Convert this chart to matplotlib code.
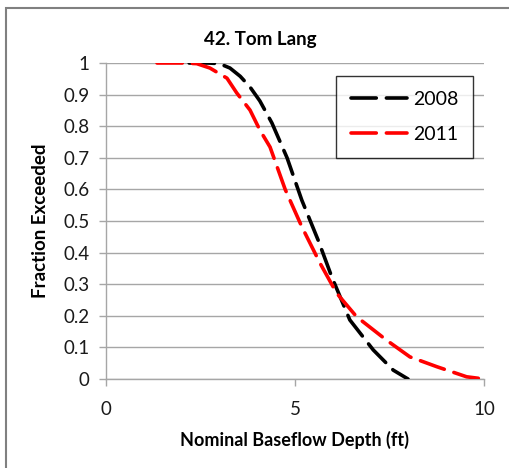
import matplotlib
matplotlib.use("Agg")
import matplotlib.pyplot as plt
from matplotlib.patches import Rectangle

plt.rcParams['font.family'] = ['Lato', 'DejaVu Sans']

# Exceedance curves: nominal baseflow depth (ft) vs fraction exceeded
depth_2008 = [2.2, 2.7, 3.0, 3.28, 3.55, 3.81, 4.07, 4.39, 4.79, 5.18, 5.61, 5.97, 6.45, 7.07, 7.6, 7.99]
frac_2008 = [1.0, 1.0, 0.998, 0.984, 0.958, 0.924, 0.88, 0.81, 0.70, 0.566, 0.44, 0.324, 0.187, 0.092, 0.028, 0.0]

depth_2011 = [1.35, 2.0, 2.4, 2.75, 3.2, 3.46, 3.81, 4.07, 4.34, 4.74, 5.18, 5.66, 6.1, 6.63, 7.42, 8.04, 8.75, 9.54, 10.0]
frac_2011 = [1.0, 1.0, 0.998, 0.984, 0.952, 0.905, 0.851, 0.788, 0.734, 0.6, 0.482, 0.367, 0.272, 0.197, 0.123, 0.07, 0.039, 0.007, 0.0]

series_labels = ['2008', '2011']
series_colors = ['black', '#FF0000']

x_ticks = [0, 5, 10]
y_ticks = [0, 0.1, 0.2, 0.3, 0.4, 0.5, 0.6, 0.7, 0.8, 0.9, 1]
y_tick_labels = ['0', '0.1', '0.2', '0.3', '0.4', '0.5', '0.6', '0.7', '0.8', '0.9', '1']

fig = plt.figure(figsize=(5.1, 4.68), dpi=100)
fig.patches.append(Rectangle((6 / 510, -0.1), 1.2, 1 - 8 / 468 + 0.1,
                             transform=fig.transFigure, fill=False,
                             edgecolor='#808080', linewidth=1.5))

ax = fig.add_axes([106 / 510, 1 - 379 / 468, 378 / 510, 316 / 468])

for xs, ys, lab, col in zip([depth_2008, depth_2011], [frac_2008, frac_2011],
                            series_labels, series_colors):
    ax.plot(xs, ys, color=col, linewidth=2.6, dashes=(7, 2.8),
            solid_capstyle='round', dash_capstyle='round', label=lab, zorder=3)

ax.set_xlim(0, 10)
ax.set_ylim(0, 1)
ax.set_xticks(x_ticks)
ax.set_xticklabels([str(t) for t in x_ticks])
ax.set_yticks(y_ticks)
ax.set_yticklabels(y_tick_labels)

ax.grid(axis='y', color='#A6A6A6', linewidth=1.0)
ax.set_axisbelow(True)
for side in ['top', 'right']:
    ax.spines[side].set_visible(False)
for side in ['left', 'bottom']:
    ax.spines[side].set_color('#A6A6A6')
    ax.spines[side].set_linewidth(1.0)

ax.tick_params(axis='both', colors='#A6A6A6', labelcolor='#1a1a1a',
               labelsize=13.5, length=5, width=1.0)
ax.tick_params(axis='x', pad=11)
ax.tick_params(axis='y', pad=7)

fig.text(260 / 510, 1 - 40 / 468, '42. Tom Lang', fontsize=13.5, fontweight='bold',
         ha='center', va='center')
ax.set_xlabel('Nominal Baseflow Depth (ft)', fontsize=13, fontweight='bold', labelpad=9)
ax.set_ylabel('Fraction Exceeded', fontsize=13.5, fontweight='bold', labelpad=10)

leg = ax.legend(loc='upper right', bbox_to_anchor=(473 / 510, 1 - 76 / 468),
                bbox_transform=fig.transFigure, fontsize=14, frameon=True,
                fancybox=False, handlelength=2.9, borderpad=0.75, labelspacing=0.95,
                handletextpad=0.3, borderaxespad=0)
leg.get_frame().set_edgecolor('black')
leg.get_frame().set_linewidth(1.0)

fig.savefig('out.png', dpi=100)
